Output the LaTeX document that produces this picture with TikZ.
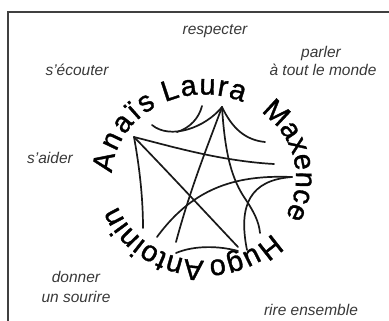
\documentclass[tikz,border=0pt]{standalone}
\usepackage{fontspec}
\setmainfont{Liberation Sans}
\newfontfamily\ringfam[FakeBold=1.2]{Liberation Sans}
\usetikzlibrary{decorations.text,calc}
\newcommand\ringfont{\ringfam\fontsize{29}{29}\selectfont}
\begin{document}
\begin{tikzpicture}[x=1pt,y=-1pt,
  stroke/.style={line width=1.7pt, black!90, line cap=round, line join=round},
  lbl/.style={font=\fontsize{15.5}{18}\selectfont\itshape, text=black!78, anchor=base, inner sep=0pt},
  ring/.style={decorate, decoration={text along path, text align=fit to path, text={|\ringfont|#1}}},
  frame/.style={line width=1.4pt, black!75}
]
\useasboundingbox (0,0) rectangle (389,321);
% frame
\draw[frame] (8,322) |- (390,12);
% labels
\node[lbl] (resp) at (215,35) {respecter};
\node[lbl] (ecou) at (77,76) {s'écouter};
\node[lbl] (parl) at (321,58) {parler};
\node[lbl] (tout) at (323,76) {à tout le monde};
\node[lbl] (aide) at (50,164) {s'aider};
\node[lbl] (donn) at (76,283) {donner};
\node[lbl] (sour) at (76,302) {un sourire};
\node[lbl] (rire) at (311,316) {rire ensemble};
% ring of names
\coordinate (c) at (204,177.5);
\path[ring={Anaïs}] ($(c)+(177:92pt and 83pt)$) arc[start angle=177, end angle=121, x radius=92pt, y radius=83pt];
\path[ring={Laura}] ($(c)+(115:92pt and 83pt)$) arc[start angle=115, end angle=65, x radius=92pt, y radius=83pt];
\path[ring={Maxence}] ($(c)+(52:92pt and 83pt)$) arc[start angle=52, end angle=-28, x radius=92pt, y radius=83pt];
\path[ring={Hugo}] ($(c)+(-42:92pt and 83pt)$) arc[start angle=-42, end angle=-87, x radius=92pt, y radius=83pt];
\path[ring={Antoinin}] ($(c)+(-90:92pt and 83pt)$) arc[start angle=-90, end angle=-160, x radius=92pt, y radius=83pt];
% hubs and ends
\coordinate (na) at (134,137);
\coordinate (nl) at (222,107);
\coordinate (nm) at (292,177);
\coordinate (a1) at (143,228);
\coordinate (a2) at (274,164);
\coordinate (a3) at (238,247);
\coordinate (l1) at (176,242);
\coordinate (l2) at (260,233);
\coordinate (l3) at (265,142);
\coordinate (l4) at (152,125);
\coordinate (s1) at (202,106);
\coordinate (s2) at (177,132);
\coordinate (m1) at (157,237);
\coordinate (m2) at (247,250);
\coordinate (b1) at (176,253);
\coordinate (b2) at (238,251);
% strokes
\draw[stroke] (na) .. controls (140,170) and (143,200) .. (a1);
\draw[stroke] (na) .. controls (170,146) and (220,161) .. (a2);
\draw[stroke] (na) .. controls (168,172) and (205,212) .. (a3);
\draw[stroke] (nl) .. controls (206,150) and (190,190) .. (l1);
\draw[stroke] (nl) .. controls (225,155) and (232,180) .. (246,200) .. controls (254,212) and (259,222) .. (l2);
\draw[stroke] (nl) .. controls (232,128) and (245,140) .. (l3);
\draw[stroke] (nl) .. controls (205,128) and (170,140) .. (l4);
\draw[stroke] (s1) .. controls (199,118) and (190,128) .. (s2);
\draw[stroke] (nm) .. controls (240,175) and (195,185) .. (m1);
\draw[stroke] (nm) .. controls (250,180) and (238,205) .. (m2);
\draw[stroke] (b1) .. controls (195,245) and (220,246) .. (b2);
\end{tikzpicture}
\end{document}
